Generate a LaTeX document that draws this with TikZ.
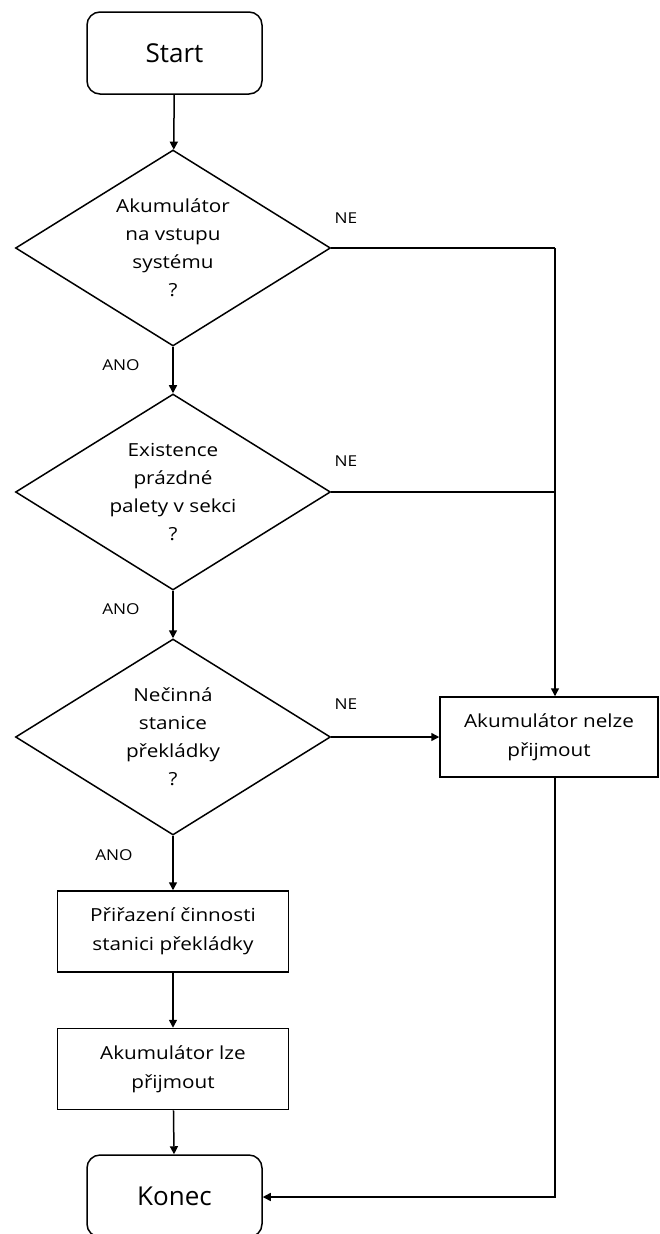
\documentclass[tikz,border=0pt]{standalone}
\usepackage{fontspec}
\setmainfont{Open Sans}
\newfontfamily\widefont[FakeStretch=1.15]{Open Sans}
\usetikzlibrary{shapes.geometric,arrows.meta}
\begin{document}
\begin{tikzpicture}[x=1pt,y=-1pt,
  every node/.style={inner sep=0pt},
  line/.style={line width=1.5pt},
  arr/.style={line width=1.5pt, -{Triangle[length=8pt,width=8pt]}},
  term/.style={draw, line width=1.5pt, rounded corners=13pt, minimum width=175pt,
    minimum height=82pt, font=\fontsize{26}{30}\selectfont},
  decision/.style={draw, diamond, shape aspect=1.6, line width=1.5pt, minimum width=315pt,
    minimum height=196pt, align=center, font=\widefont\fontsize{18}{28}\selectfont},
  process/.style={draw, line width=1.5pt, minimum width=231pt, minimum height=81pt,
    align=center, font=\widefont\fontsize{18}{29}\selectfont},
  lbl/.style={font=\widefont\fontsize{15}{16}\selectfont}
]
\useasboundingbox (0,0) rectangle (659,1234);
\clip (0,0) rectangle (659,1234);

% main column
\node[term] (start) at (174.5,53) {Start};
\node[decision] (d1) at (173,248) {Akumulátor\\na vstupu\\systému\\?};
\node[decision] (d2) at (173,492) {Existence\\prázdné\\palety v sekci\\?};
\node[decision] (d3) at (173,737) {Nečinná\\stanice\\překládky\\?};
\node[process] (assign) at (173,931.5) {Přiřazení činnosti\\stanici překládky};
\node[process] (accept) at (173,1069) {Akumulátor lze\\přijmout};
\node[term] (konec) at (174.5,1196) {Konec};

% rejection branch
\node[process, minimum width=218pt, minimum height=80pt] (reject) at (549,737)
  {Akumulátor nelze\\přijmout};

% branch labels
\node[lbl] (ne1) at (346,218) {NE};
\node[lbl] (ne2) at (346,461) {NE};
\node[lbl] (ne3) at (346,704) {NE};
\node[lbl] (ano1) at (121,365) {ANO};
\node[lbl] (ano2) at (121,609) {ANO};
\node[lbl] (ano3) at (114,855) {ANO};

% junction points on the right-hand bus
\coordinate (j1) at (555,248);
\coordinate (j2) at (555,492);
\coordinate (jb) at (555,1197);

% connectors
\draw[arr] (start) -- (d1);
\draw[arr] (d1) -- (d2);
\draw[arr] (d2) -- (d3);
\draw[arr] (d3) -- (assign);
\draw[arr] (assign) -- (accept);
\draw[arr] (accept) -- (konec);
\draw[arr] (d3.east) -- (reject.west);
\draw[line] (d1.east) -- (j1);
\draw[line] (d2.east) -- (j2);
\draw[arr] (j1) -- (j1 |- reject.north);
\draw[arr] (reject.south -| jb) -- (jb) -- (konec.east |- jb);
\end{tikzpicture}
\end{document}
